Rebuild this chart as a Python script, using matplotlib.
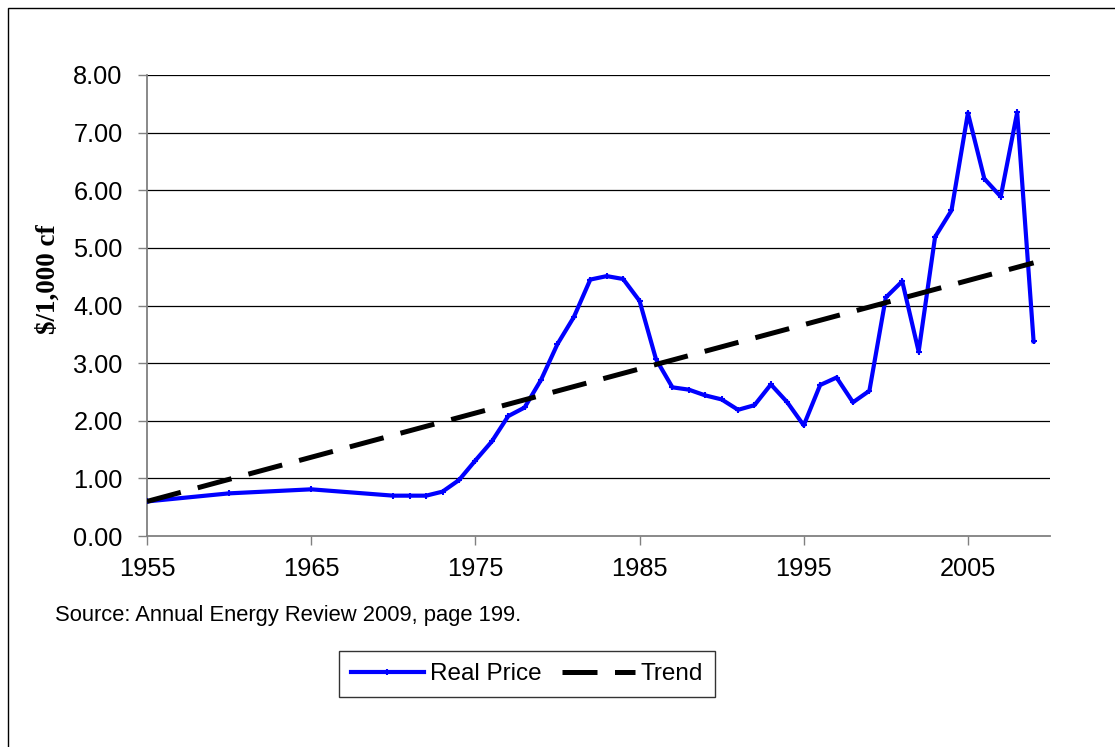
import matplotlib
matplotlib.use('Agg')
import matplotlib.pyplot as plt
from matplotlib.patches import Rectangle

years = [1955, 1960, 1965, 1970, 1971, 1972, 1973, 1974, 1975, 1976, 1977, 1978,
         1979, 1980, 1981, 1982, 1983, 1984, 1985, 1986, 1987, 1988, 1989, 1990,
         1991, 1992, 1993, 1994, 1995, 1996, 1997, 1998, 1999, 2000, 2001, 2002,
         2003, 2004, 2005, 2006, 2007, 2008, 2009]
price = [0.60, 0.74, 0.81, 0.70, 0.70, 0.70, 0.77, 0.97, 1.31, 1.64, 2.08, 2.23,
         2.71, 3.33, 3.80, 4.45, 4.51, 4.46, 4.08, 3.07, 2.58, 2.54, 2.44, 2.37,
         2.19, 2.27, 2.63, 2.32, 1.92, 2.62, 2.75, 2.32, 2.52, 4.14, 4.42, 3.20,
         5.19, 5.65, 7.34, 6.20, 5.89, 7.35, 3.38]
trend_years = [1955, 2009]
trend = [0.60, 4.74]

x_ticks = [1955, 1965, 1975, 1985, 1995, 2005]
y_ticks = [0, 1, 2, 3, 4, 5, 6, 7, 8]

plt.rcParams['font.family'] = ['Liberation Sans', 'DejaVu Sans']

fig = plt.figure(figsize=(11.15, 7.47), dpi=100)
ax = fig.add_axes([147/1115, 1 - 536/747, (1050-147)/1115, (536-75)/747])

# outer frame of the chart area
fig.patches.append(Rectangle((8/1115, -0.1), 1.2, 1 - 8/747 + 0.1, transform=fig.transFigure,
                             fill=False, edgecolor='black', linewidth=1))

for y in y_ticks[1:]:
    ax.axhline(y, color='black', linewidth=0.9, zorder=1)

ax.plot(years, price, color='#0000ff', linewidth=3, marker='+', markersize=5,
        markeredgewidth=1.5, label='Real Price', zorder=3)
ax.plot(trend_years, trend, color='black', linewidth=3.6, dashes=(7, 3.5),
        label='Trend', zorder=4)

ax.set_xlim(1955, 2010)
ax.set_ylim(0, 8)
ax.set_xticks(x_ticks)
ax.set_xticklabels([str(v) for v in x_ticks])
ax.set_yticks(y_ticks)
ax.set_yticklabels(['%.2f' % v for v in y_ticks])
ax.tick_params(axis='both', labelsize=18.3, direction='out', length=6.5, width=1,
               color='#808080')
ax.tick_params(axis='y', pad=11)
ax.tick_params(axis='x', pad=8.5)

for s in ['top', 'right']:
    ax.spines[s].set_visible(False)
for s in ['left', 'bottom']:
    ax.spines[s].set_color('#808080')
    ax.spines[s].set_linewidth(1.3)

fig.text(48/1115, 1 - 279/747, '$/1,000 cf', family=['Liberation Serif', 'DejaVu Serif'],
         fontweight='bold', fontsize=19.5, rotation=90, ha='center', va='center')

fig.text(55/1115, 1 - 615/747, 'Source: Annual Energy Review 2009, page 199.',
         fontsize=15.8, va='center', ha='left')

leg = fig.legend(loc='center', bbox_to_anchor=(527/1115, 1 - 674/747), ncol=2,
                 fontsize=17.5, frameon=True, fancybox=False, edgecolor='black',
                 handlelength=3.0, handletextpad=0.25, columnspacing=0.85,
                 borderpad=0.5)
leg.get_frame().set_linewidth(1)

fig.savefig('out.png', dpi=100, facecolor='white')
